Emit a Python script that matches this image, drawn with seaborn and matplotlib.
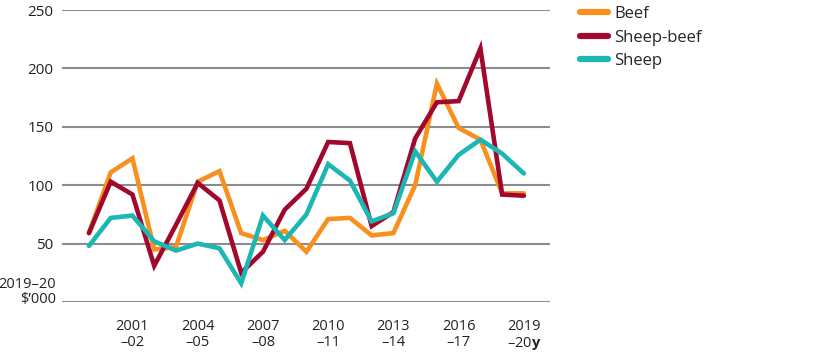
import pandas as pd
import matplotlib.pyplot as plt
import seaborn as sns

years = ['1999-00', '2000-01', '2001-02', '2002-03', '2003-04', '2004-05', '2005-06',
         '2006-07', '2007-08', '2008-09', '2009-10', '2010-11', '2011-12', '2012-13',
         '2013-14', '2014-15', '2015-16', '2016-17', '2017-18', '2018-19', '2019-20']
beef = [59, 111, 123, 45, 47, 103, 112, 59, 53, 61, 43, 71, 72, 57, 59,
        100, 187, 149, 139, 93, 93]
sheep_beef = [59, 103, 92, 31, 66, 102, 87, 25, 43, 79, 97, 137, 136, 65, 77,
              140, 171, 172, 217, 92, 91]
sheep = [48, 72, 74, 52, 44, 50, 46, 16, 74, 53, 75, 118, 104, 69, 76,
         129, 103, 126, 139, 127, 110]
y_ticks = [50, 100, 150, 200, 250]
x_labels = {2: '2001\n–02', 5: '2004\n–05', 8: '2007\n–08', 11: '2010\n–11',
            14: '2013\n–14', 17: '2016\n–17', 20: '2019\n–20$\\mathbf{y}$'}

colors = {'Beef': '#F7901E', 'Sheep-beef': '#A0082E', 'Sheep': '#1CB6B4'}

df = pd.DataFrame({'pos': list(range(len(years))) * 3,
                   'value': beef + sheep_beef + sheep,
                   'farm': ['Beef'] * 21 + ['Sheep-beef'] * 21 + ['Sheep'] * 21})

sns.set_style('white')
plt.rcParams['font.family'] = ['Open Sans', 'DejaVu Sans']
plt.rcParams['mathtext.fontset'] = 'custom'
plt.rcParams['mathtext.bf'] = 'Open Sans:bold'
plt.rcParams['mathtext.rm'] = 'Open Sans'

fig = plt.figure(figsize=(8.15, 3.56), dpi=100)
ax = fig.add_axes([62 / 815, 1 - 302 / 356, 488 / 815, 292 / 356])

for y in y_ticks:
    ax.axhline(y, color='#8c8c8c', lw=1.5, zorder=0)
ax.axhline(0, color='#8c8c8c', lw=1.5, zorder=0)

sns.lineplot(data=df, x='pos', y='value', hue='farm', palette=colors, lw=3.3,
             ax=ax, legend=False, solid_capstyle='round', solid_joinstyle='miter')

ax.set_xlim(-1.24, 21.2)
ax.set_ylim(0, 250)
for s in ax.spines.values():
    s.set_visible(False)

ax.set_yticks(y_ticks)
ax.set_yticklabels([str(v) for v in y_ticks], fontsize=11, color='#222222')
ax.tick_params(axis='y', length=0, pad=6)
ax.text(-0.012, 0.035, '2019–20\n$’000', transform=ax.transAxes, fontsize=10.5,
        color='#222222', ha='right', va='center', linespacing=1.05)

ax.set_xticks(range(len(years)))
ax.set_xticklabels([x_labels.get(i, '') for i in range(len(years))], fontsize=10.5,
                   color='#222222', linespacing=1.15)
ax.tick_params(axis='x', direction='out', length=8, width=1.3, color='#666666', pad=4)
ax.set_xlabel('')
ax.set_ylabel('')

handles = [plt.Line2D([], [], color=colors[k], lw=4.5, solid_capstyle='round')
           for k in colors]
fig.legend(handles, list(colors), loc='upper left', bbox_to_anchor=(565 / 815, 1.025),
           frameon=False, fontsize=12, handlelength=1.7, handletextpad=0.35,
           labelspacing=0.45)

fig.savefig('out.png', dpi=100)
